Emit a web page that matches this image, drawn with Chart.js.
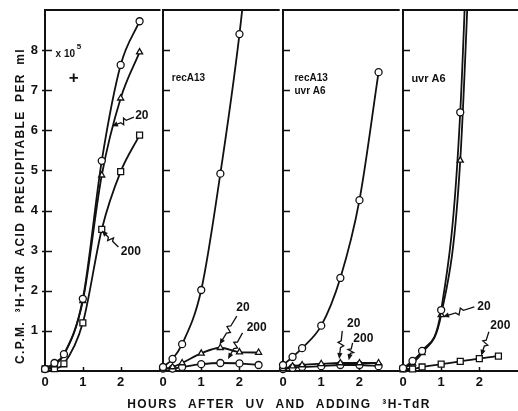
<!DOCTYPE html>
<html><head><meta charset="utf-8">
<script src="https://cdn.jsdelivr.net/npm/chart.js@4.4.0/dist/chart.umd.min.js"></script>
<style>
html,body{margin:0;padding:0;background:#fff;}
#wrap{position:relative;width:518px;height:411px;overflow:hidden;background:#fff;font-family:"Liberation Sans",Arial,sans-serif;}
canvas{position:absolute;top:0;}
.ttl{position:absolute;font-weight:bold;color:#111;white-space:pre;}
#xt{left:0;width:558px;top:397px;height:14px;line-height:14px;text-align:center;font-size:12px;letter-spacing:1.4px;word-spacing:6px;}
#yt{left:-180px;width:400px;top:199px;height:14px;line-height:14px;text-align:center;font-size:12px;letter-spacing:1.3px;word-spacing:4px;transform:rotate(-90deg);}
</style></head><body>
<div id="wrap">
<canvas id="p1" width="164" height="411" style="left:0;width:164px;height:411px"></canvas>
<canvas id="p2" width="140" height="411" style="left:143px;width:140px;height:411px"></canvas>
<canvas id="p3" width="140" height="411" style="left:263px;width:140px;height:411px"></canvas>
<canvas id="p4" width="140" height="411" style="left:383px;width:140px;height:411px"></canvas>
<div class="ttl" id="xt">HOURS AFTER UV AND ADDING ³H-TdR</div>
<div class="ttl" id="yt">C.P.M. ³H-TdR ACID PRECIPITABLE PER ml</div>
</div>
<script>
// ---- data (hours after UV; c.p.m. x 10^5) ----
const hours = [0, 0.25, 0.5, 1, 1.5, 2, 2.5];
const xTickValues = [0, 1, 2];
const yTickValues = [1, 2, 3, 4, 5, 6, 7, 8];
const panelNames = [["+"], ["recA13"], ["recA13", "uvr A6"], ["uvr A6"]];
const doseLabels = ["20", "200"];

const p1Control = [0.05, 0.2, 0.42, 1.8, 5.24, 7.63, 8.72];
const p1Dose20  = [0.05, 0.15, 0.4, 1.75, 4.88, 6.8, 7.95];
const p1Dose200 = [0.05, 0.06, 0.18, 1.2, 3.53, 4.97, 5.88];

const p2Control = [0.1, 0.3, 0.67, 2.02, 4.92, 8.4, 13];
const p2Dose20  = [0.05, 0.1, 0.2, 0.44, 0.58, 0.47, 0.46];
const p2Dose200 = [0.06, 0.06, 0.1, 0.17, 0.2, 0.19, 0.15];

const p3Control = [0.15, 0.35, 0.57, 1.13, 2.32, 4.26, 7.45];
const p3Dose20  = [0.05, 0.12, 0.15, 0.18, 0.2, 0.2, 0.2];
const p3Dose200 = [0.05, 0.08, 0.1, 0.12, 0.15, 0.15, 0.12];

const p4Control = [0.07, 0.25, 0.5, 1.52, 6.45, 20];
const p4Dose20  = [0.05, 0.2, 0.45, 1.4, 5.25, 17];
const p4Dose200 = [0.05, 0.05, 0.1, 0.17, 0.24, 0.31, 0.37];

// ---- annotation placement (data coordinates) ----
const notes = [
  { texts: [{t: "x 10", x: 0.28, y: 7.9, size: 10, align: "left"},
            {t: "5", x: 0.84, y: 8.08, size: 8, align: "left"},
            {t: panelNames[0][0], x: 0.76, y: 7.3, size: 17, align: "center"},
            {t: doseLabels[0], x: 2.56, y: 6.36, size: 12, align: "center"},
            {t: doseLabels[1], x: 2.27, y: 2.97, size: 12, align: "center"}],
    arrows: [[2.35, 6.33, 1.77, 6.1], [1.94, 3.09, 1.5, 3.5]] },
  { texts: [{t: panelNames[1][0], x: 0.23, y: 7.31, size: 10, align: "left"},
            {t: doseLabels[0], x: 2.09, y: 1.57, size: 12, align: "center"},
            {t: doseLabels[1], x: 2.45, y: 1.08, size: 12, align: "center"}],
    arrows: [[1.93, 1.37, 1.48, 0.66], [2.08, 0.95, 1.7, 0.3]] },
  { texts: [{t: panelNames[2][0], x: 0.3, y: 7.31, size: 10, align: "left"},
            {t: panelNames[2][1], x: 0.3, y: 6.97, size: 10, align: "left"},
            {t: doseLabels[0], x: 1.85, y: 1.17, size: 12, align: "center"},
            {t: doseLabels[1], x: 2.1, y: 0.8, size: 12, align: "center"}],
    arrows: [[1.55, 1.0, 1.47, 0.3], [1.82, 0.7, 1.72, 0.27]] },
  { texts: [{t: panelNames[3][0], x: 0.22, y: 7.28, size: 11, align: "left"},
            {t: doseLabels[0], x: 2.12, y: 1.6, size: 12, align: "center"},
            {t: doseLabels[1], x: 2.55, y: 1.12, size: 12, align: "center"}],
    arrows: [[1.87, 1.6, 1.05, 1.35], [2.25, 0.98, 2.05, 0.38]] }
];

const INK = '#111';
const FONT = '"Liberation Sans", Arial, sans-serif';

function series(vals, style) {
  const big = style === 'rect';
  return {
    data: vals.map((v, i) => ({x: hours[i], y: v})),
    borderColor: INK, borderWidth: 1.8,
    pointStyle: style, pointRadius: big ? 4.2 : 3.5,
    pointBackgroundColor: '#fff', pointBorderColor: INK, pointBorderWidth: 1.3,
    cubicInterpolationMode: 'monotone',
    clip: {left: 8, right: 8, top: 0, bottom: 8}
  };
}

const framePlugin = {
  id: 'frame',
  beforeDatasetsDraw(chart, args, opts) {
    const {ctx, chartArea: a, scales: {x, y}} = chart;
    ctx.save();
    ctx.strokeStyle = INK; ctx.lineWidth = 2;
    ctx.beginPath();
    ctx.moveTo(a.left, a.top); ctx.lineTo(a.left, a.bottom);
    ctx.moveTo(a.left - 1, a.top); ctx.lineTo(a.right + 2, a.top);
    ctx.moveTo(a.left - 1, a.bottom); ctx.lineTo(a.right + 2, a.bottom);
    ctx.stroke();
    ctx.lineWidth = 1.5;
    ctx.beginPath();
    yTickValues.forEach(v => {
      const py = Math.round(y.getPixelForValue(v)) + 0.5;
      ctx.moveTo(a.left - opts.out, py); ctx.lineTo(a.left + 7, py);
    });
    xTickValues.forEach(v => {
      if (v === 0) return;
      const px = Math.round(x.getPixelForValue(v)) + 0.5;
      ctx.moveTo(px, a.bottom); ctx.lineTo(px, a.bottom - 4);
    });
    ctx.stroke();
    ctx.restore();
  }
};

function squiggle(ctx, x0, y0, x1, y1) {
  const dx = x1 - x0, dy = y1 - y0, L = Math.hypot(dx, dy);
  const ux = dx / L, uy = dy / L, nx = -uy, ny = ux;
  const p = t => [x0 + dx * t, y0 + dy * t];
  ctx.beginPath();
  ctx.moveTo(x0, y0);
  let q = p(0.35); ctx.lineTo(q[0], q[1]);
  q = p(0.42); ctx.lineTo(q[0] + nx * 3, q[1] + ny * 3);
  q = p(0.52); ctx.lineTo(q[0] - nx * 3, q[1] - ny * 3);
  q = p(0.6); ctx.lineTo(q[0], q[1]);
  ctx.lineTo(x1 - ux * 4, y1 - uy * 4);
  ctx.stroke();
  const h = 6, w = 2.6;
  ctx.beginPath();
  ctx.moveTo(x1, y1);
  ctx.lineTo(x1 - ux * h + nx * w, y1 - uy * h + ny * w);
  ctx.lineTo(x1 - ux * h - nx * w, y1 - uy * h - ny * w);
  ctx.closePath(); ctx.fill();
}

const notePlugin = {
  id: 'notes',
  afterDatasetsDraw(chart, args, opts) {
    const {ctx, scales: {x, y}} = chart;
    const n = opts.set;
    ctx.save();
    ctx.fillStyle = INK; ctx.strokeStyle = INK; ctx.lineWidth = 1.3;
    ctx.textBaseline = 'middle';
    n.texts.forEach(t => {
      ctx.font = 'bold ' + t.size + 'px ' + FONT;
      ctx.textAlign = t.align;
      ctx.fillText(t.t, x.getPixelForValue(t.x), y.getPixelForValue(t.y));
    });
    n.arrows.forEach(r => squiggle(ctx, x.getPixelForValue(r[0]), y.getPixelForValue(r[1]),
                                        x.getPixelForValue(r[2]), y.getPixelForValue(r[3])));
    ctx.restore();
  }
};

function makePanel(id, idx, datasets, first) {
  new Chart(document.getElementById(id), {
    type: 'line',
    data: {datasets},
    plugins: [framePlugin, notePlugin],
    options: {
      responsive: false, animation: false, devicePixelRatio: 1,
      layout: {padding: {top: 10, left: first ? 0 : 20, right: 0, bottom: 0}},
      plugins: {legend: {display: false}, tooltip: {enabled: false},
                frame: {out: first ? 3 : 0}, notes: {set: notes[idx]}},
      scales: {
        x: {type: 'linear', min: 0, max: 3,
            grid: {display: false, drawTicks: false}, border: {display: false},
            afterBuildTicks: s => { s.ticks = xTickValues.map(v => ({value: v})); },
            afterFit: s => { s.height = 40; s.paddingRight = 0; },
            ticks: {padding: 4, color: INK, font: {family: FONT, size: 13, weight: 'bold'}}},
        y: {type: 'linear', min: 0, max: 9, display: first,
            grid: {display: false, drawTicks: false}, border: {display: false},
            afterBuildTicks: s => { s.ticks = yTickValues.map(v => ({value: v})); },
            afterFit: s => { s.width = first ? 45 : 0; s.paddingTop = 0; s.paddingBottom = 0; },
            ticks: {padding: 7, color: INK, font: {family: FONT, size: 13, weight: 'bold'}}}
      }
    }
  });
}

makePanel('p1', 0, [series(p1Control, 'circle'), series(p1Dose20, 'triangle'), series(p1Dose200, 'rect')], true);
makePanel('p2', 1, [series(p2Control, 'circle'), series(p2Dose20, 'triangle'), series(p2Dose200, 'circle')], false);
makePanel('p3', 2, [series(p3Control, 'circle'), series(p3Dose20, 'triangle'), series(p3Dose200, 'circle')], false);
makePanel('p4', 3, [series(p4Control, 'circle'), series(p4Dose20, 'triangle'), series(p4Dose200, 'rect')], false);
</script>
</body></html>
